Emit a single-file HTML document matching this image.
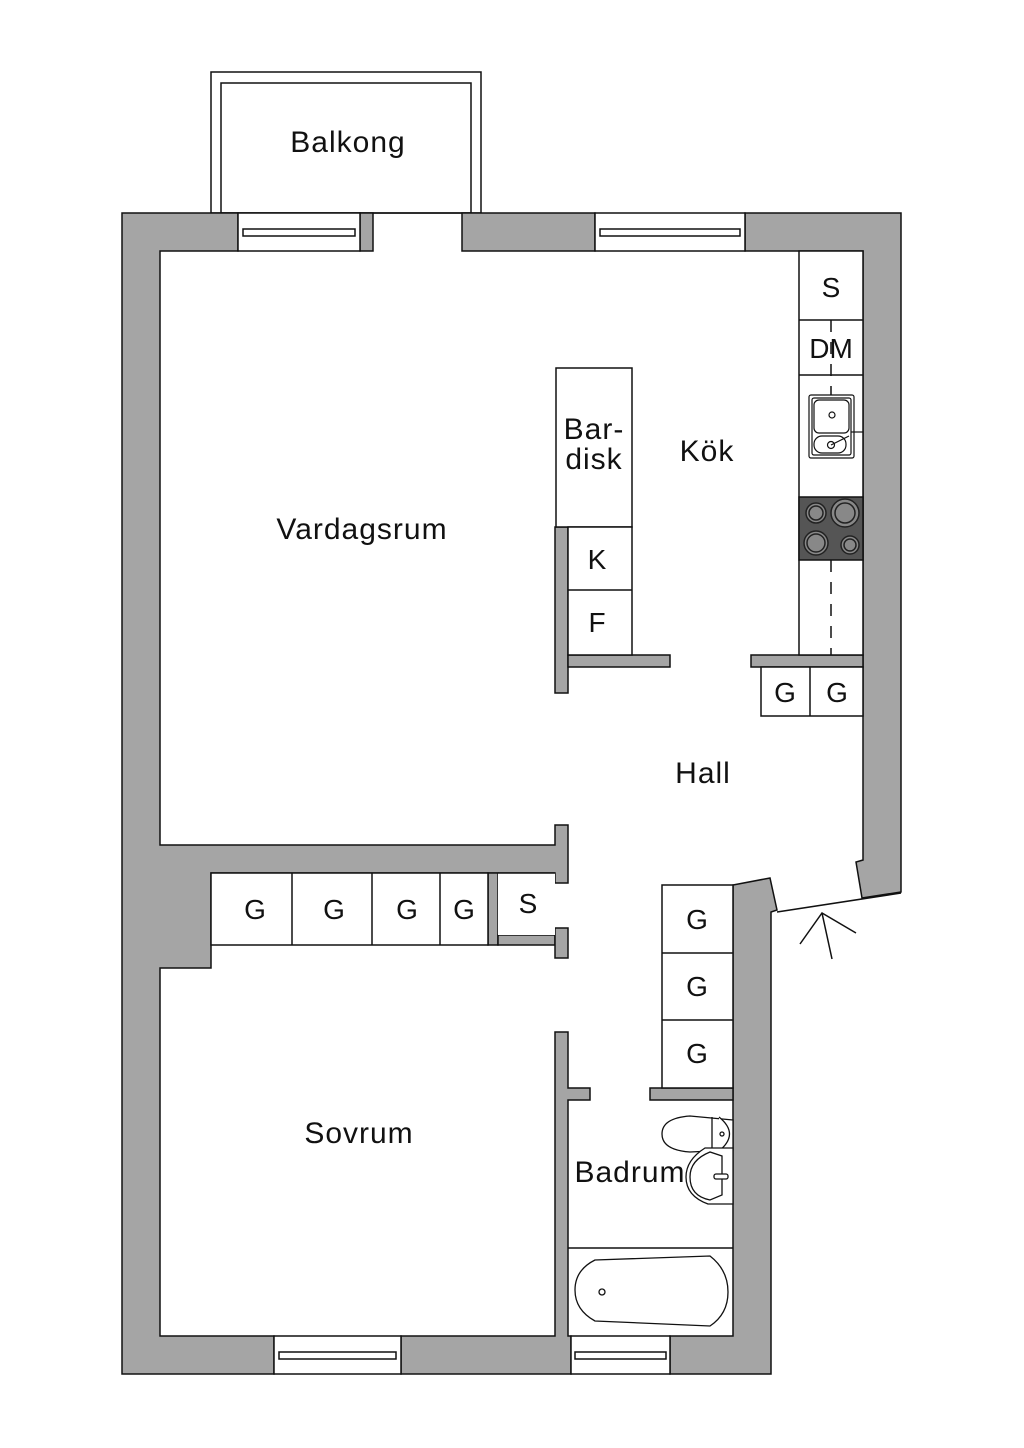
<!DOCTYPE html>
<html><head><meta charset="utf-8"><style>
html,body{margin:0;padding:0;background:#fff;}
svg{display:block;}
text{font-family:"Liberation Sans",sans-serif;fill:#111;}
</style></head><body>
<svg width="1024" height="1448" viewBox="0 0 1024 1448" xmlns="http://www.w3.org/2000/svg">
<g stroke="#111" stroke-width="1.5" fill="none">
<rect x="211" y="72" width="270" height="141" fill="#fff"/>
<rect x="221" y="83" width="250" height="130"/>
</g>
<g fill="#a5a5a5" stroke="#111" stroke-width="1.5" stroke-linejoin="miter">
<polygon points="122,213 238,213 238,251 160,251 160,845 555,845 555,825 568,825 568,883 555,883 555,873 211,873 211,968 160,968 160,1336 274,1336 274,1374 122,1374"/>
<polygon points="555,1032 568,1032 568,1088 590,1088 590,1100 568,1100 568,1336 571,1336 571,1374 401,1374 401,1336 555,1336"/>
<polygon points="670,1336 733,1336 733,885 770,878 777,910 771,912 771,1374 670,1374"/>
<rect x="650" y="1088" width="83" height="12"/>
<rect x="360" y="213" width="13" height="38"/>
<rect x="462" y="213" width="133" height="38"/>
<polygon points="745,213 901,213 901,892 862,898 856,862 863,860 863,251 745,251"/>
<rect x="488" y="873" width="10" height="72"/>
<rect x="498" y="935" width="57" height="10"/>
<rect x="555" y="928" width="13" height="30"/>
<rect x="555" y="527" width="13" height="166"/>
<rect x="568" y="655" width="102" height="12"/>
<rect x="751" y="655" width="112" height="12"/>
</g>
<g stroke="#111" stroke-width="1.5" fill="#fff">
<rect x="238" y="213" width="122" height="38"/>
<rect x="243" y="229" width="112" height="7"/>
<rect x="595" y="213" width="150" height="38"/>
<rect x="600" y="229" width="140" height="7"/>
<rect x="274" y="1336" width="127" height="38"/>
<rect x="279" y="1352" width="117" height="7"/>
<rect x="571" y="1336" width="99" height="38"/>
<rect x="575" y="1352" width="91" height="7"/>
<rect x="211" y="873" width="277" height="72"/>
<line x1="292" y1="873" x2="292" y2="945"/><line x1="372" y1="873" x2="372" y2="945"/><line x1="440" y1="873" x2="440" y2="945"/>
<rect x="498" y="873" width="57" height="62" stroke="none"/>
<polyline points="498,873 555,873" fill="none"/>
<rect x="556" y="368" width="76" height="159"/>
<rect x="568" y="527" width="64" height="128"/>
<line x1="568" y1="590" x2="632" y2="590"/>
<rect x="799" y="251" width="64" height="404"/>
<line x1="799" y1="320" x2="863" y2="320"/><line x1="799" y1="375" x2="863" y2="375"/>
<rect x="761" y="667" width="102" height="49"/>
<line x1="810" y1="667" x2="810" y2="716"/>
<rect x="662" y="885" width="71" height="203"/>
<line x1="662" y1="953" x2="733" y2="953"/><line x1="662" y1="1020" x2="733" y2="1020"/>
<line x1="568" y1="1248" x2="733" y2="1248"/>
</g>
<g stroke="#111" stroke-width="1.5" stroke-dasharray="12,10">
<line x1="831" y1="320" x2="831" y2="395"/>
<line x1="831" y1="560" x2="831" y2="655"/>
</g>
<g stroke="#111" stroke-width="1.2" fill="#fff">
<rect x="809" y="395" width="45" height="63" rx="2"/>
<rect x="812" y="398" width="39" height="57" rx="2"/>
<rect x="814" y="400" width="35" height="33" rx="5"/>
<rect x="814" y="436" width="32" height="17" rx="8"/>
<circle cx="832" cy="415" r="3"/>
<circle cx="831" cy="445" r="3.5"/>
<line x1="831" y1="445" x2="849" y2="436"/>
<line x1="851" y1="432" x2="863" y2="432"/>
</g>
<rect x="799" y="497" width="64" height="63" fill="#555" stroke="#111" stroke-width="1.5"/>
<g stroke="#222" stroke-width="1.5" fill="#888">
<circle cx="816" cy="513" r="10"/><circle cx="816" cy="513" r="7"/>
<circle cx="845" cy="513" r="14"/><circle cx="845" cy="513" r="10"/>
<circle cx="816" cy="543" r="12"/><circle cx="816" cy="543" r="9"/>
<circle cx="850" cy="545" r="9"/><circle cx="850" cy="545" r="6"/>
</g>
<g stroke="#111" stroke-width="1.3" fill="#fff">
<path d="M733,1120 L690,1116 Q662,1118 662,1134 Q662,1150 690,1152 L733,1150 Z"/>
<path d="M712,1117 L712,1151 M719,1117 Q740,1134 719,1151"/>
<circle cx="722" cy="1134" r="2"/>
<path d="M733,1148 L705,1148 Q686,1160 686,1177 Q686,1196 708,1204 L733,1204 Z"/>
<path d="M710,1152 Q690,1160 690,1177 Q690,1196 710,1200 L722,1195 L722,1156 Z"/>
<rect x="714" y="1174" width="14" height="5" rx="2"/>
<path d="M595,1260 L710,1256 Q728,1270 728,1292 Q728,1314 710,1326 L595,1321 Q575,1310 575,1290 Q575,1270 595,1260 Z"/>
<circle cx="602" cy="1292" r="3"/>
</g>
<g stroke="#111" stroke-width="1.5" fill="none">
<line x1="777" y1="912" x2="901" y2="893"/>
<polyline points="800,944 822,913 856,933"/>
<line x1="822" y1="913" x2="832" y2="959"/>
</g>
<g font-size="30" letter-spacing="1">
<text x="348" y="152" text-anchor="middle">Balkong</text>
<text x="362" y="539" text-anchor="middle">Vardagsrum</text>
<text x="707" y="461" text-anchor="middle">Kök</text>
<text x="594" y="439" text-anchor="middle">Bar-</text>
<text x="594" y="469" text-anchor="middle">disk</text>
<text x="703" y="783" text-anchor="middle">Hall</text>
<text x="359" y="1143" text-anchor="middle">Sovrum</text>
<text x="630" y="1182" text-anchor="middle">Badrum</text>
</g>
<g font-size="28" text-anchor="middle">
<text x="831" y="297">S</text>
<text x="831" y="358">DM</text>
<text x="597" y="569">K</text>
<text x="597" y="632">F</text>
<text x="785" y="702">G</text>
<text x="837" y="702">G</text>
<text x="255" y="919">G</text>
<text x="334" y="919">G</text>
<text x="407" y="919">G</text>
<text x="464" y="919">G</text>
<text x="528" y="913">S</text>
<text x="697" y="929">G</text>
<text x="697" y="996">G</text>
<text x="697" y="1063">G</text>
</g>
</svg>
</body></html>
